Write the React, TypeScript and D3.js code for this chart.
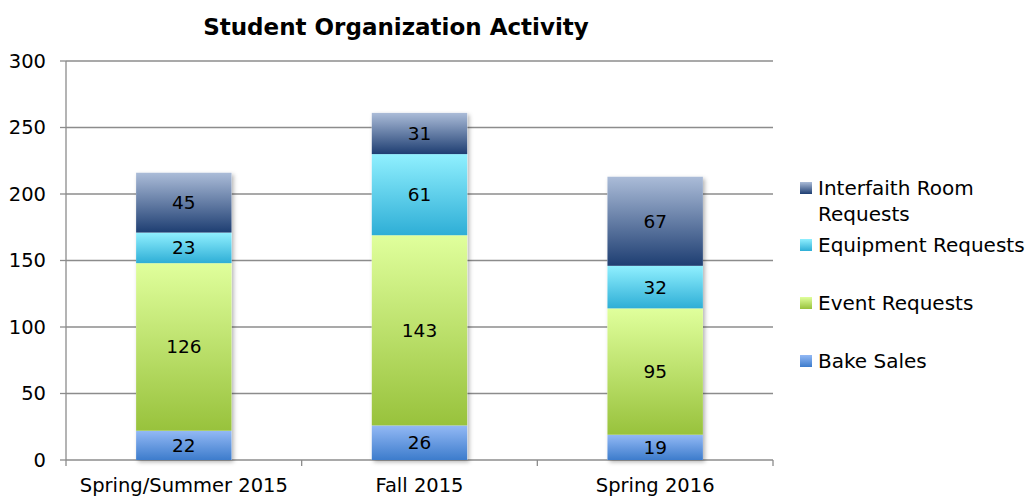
import React from "react";
import * as d3 from "d3";

const categories = ["Spring/Summer 2015", "Fall 2015", "Spring 2016"];
const seriesNames = ["Bake Sales", "Event Requests", "Equipment Requests", "Interfaith Room Requests"];
const bakeSales = [22, 26, 19];
const eventRequests = [126, 143, 95];
const equipmentRequests = [23, 61, 32];
const interfaithRequests = [45, 31, 67];
const yTicks = [0, 50, 100, 150, 200, 250, 300];

const gradients = [
  ["#93b9f5", "#3d7ccc"],
  ["#e0ff9c", "#98c23c"],
  ["#90f0ff", "#2eaed6"],
  ["#abbcd8", "#1e3e72"],
];

const W = 1031, H = 500;
const left = 66, right = 773, top = 61, bottom = 460;
const FONT = "'Century Gothic', 'DejaVu Sans', sans-serif";

export default function App() {
  const x = d3.scaleBand<string>().domain(categories).range([left, right]).paddingInner(0).paddingOuter(0);
  const y = d3.scaleLinear().domain([0, 300]).range([bottom, top]);
  const rows = categories.map((c, i) => ({
    cat: c,
    "Bake Sales": bakeSales[i],
    "Event Requests": eventRequests[i],
    "Equipment Requests": equipmentRequests[i],
    "Interfaith Room Requests": interfaithRequests[i],
  }));
  const stack = d3.stack<any>().keys(seriesNames)(rows);
  const bw = x.bandwidth() * 0.405;

  const legendY = [188, 245, 303, 361];

  return (
    <svg width={W} height={H} style={{ position: "absolute", left: 0, top: 0 }} fontFamily={FONT}>
      <defs>
        {gradients.map((g, i) => (
          <linearGradient key={i} id={`g${i}`} x1="0" y1="0" x2="0" y2="1">
            <stop offset="0" stopColor={g[0]} />
            <stop offset="1" stopColor={g[1]} />
          </linearGradient>
        ))}
        <filter id="sh" x="-10%" y="-10%" width="130%" height="130%">
          <feDropShadow dx="2" dy="2" stdDeviation="2" floodColor="#000" floodOpacity="0.3" />
        </filter>
      </defs>
      <rect width={W} height={H} fill="#fff" />
      <text x={396} y={35} textAnchor="middle" fontSize={23} fontWeight="bold" fill="#000">
        Student Organization Activity
      </text>
      {yTicks.map((t) => (
        <g key={t}>
          {t > 0 && <line x1={left} x2={right} y1={y(t)} y2={y(t)} stroke="#8c8c8c" strokeWidth={1.3} />}
          <line x1={left - 6} x2={left} y1={y(t)} y2={y(t)} stroke="#8c8c8c" strokeWidth={1.3} />
          <text x={left - 20} y={y(t)} dy="0.35em" textAnchor="end" fontSize={19.5} fill="#000">
            {t}
          </text>
        </g>
      ))}
      <line x1={left} x2={left} y1={top} y2={bottom} stroke="#8c8c8c" strokeWidth={1.3} />
      <line x1={left} x2={right} y1={bottom} y2={bottom} stroke="#8c8c8c" strokeWidth={1.3} />
      {[0, 1, 2, 3].map((i) => {
        const xx = left + i * x.step();
        return <line key={i} x1={xx} x2={xx} y1={bottom} y2={bottom + 6} stroke="#8c8c8c" strokeWidth={1.3} />;
      })}
      {categories.map((c) => (
        <text key={c} x={(x(c) as number) + x.bandwidth() / 2} y={bottom + 32} textAnchor="middle" fontSize={19.5} fill="#000">
          {c}
        </text>
      ))}
      {categories.map((c, ci) => (
        <rect
          key={"sh" + c}
          x={(x(c) as number) + (x.bandwidth() - bw) / 2}
          y={y(stack[3][ci][1])}
          width={bw}
          height={y(0) - y(stack[3][ci][1])}
          fill="#fff"
          filter="url(#sh)"
        />
      ))}
      {stack.map((s, si) =>
        s.map((d, ci) => {
          const c = categories[ci];
          const bx = (x(c) as number) + (x.bandwidth() - bw) / 2;
          const y0 = y(d[1]);
          const y1 = y(d[0]);
          return (
            <g key={si + "-" + ci}>
              <rect x={bx} y={y0} width={bw} height={y1 - y0} fill={`url(#g${si})`} />
              <text x={bx + bw / 2} y={(y0 + y1) / 2} dy="0.35em" textAnchor="middle" fontSize={18.5} fill="#000">
                {d[1] - d[0]}
              </text>
            </g>
          );
        })
      )}
      {[3, 2, 1, 0].map((si, k) => (
        <g key={si}>
          <rect x={800} y={legendY[k] - 6} width={12} height={12} fill={`url(#g${si})`} />
          {si === 3 ? (
            <text x={818} y={legendY[k]} dy="0.35em" fontSize={20} fill="#000">
              <tspan x={818}>Interfaith Room</tspan>
              <tspan x={818} dy={26}>Requests</tspan>
            </text>
          ) : (
            <text x={818} y={legendY[k]} dy="0.35em" fontSize={20} fill="#000">
              {seriesNames[si]}
            </text>
          )}
        </g>
      ))}
    </svg>
  );
}
